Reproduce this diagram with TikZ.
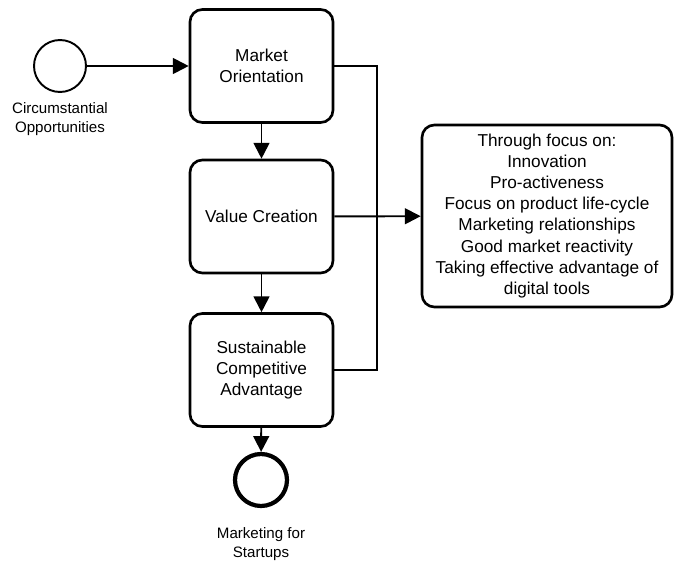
\documentclass[tikz,border=0pt]{standalone}
\usepackage{fontspec}
\setmainfont{Liberation Sans}
\usetikzlibrary{arrows.meta,positioning}
\tikzset{
  >={Triangle[length=9pt,width=9pt]},
  line join=round,
  every picture/.style={line width=1.1pt},
  stepbox/.style={draw, rounded corners=7pt, line width=1.5pt, minimum width=2.86cm, minimum height=2.26cm, align=center, font=\fontsize{9.8}{12}\selectfont},
  notebox/.style={stepbox, minimum width=5cm, minimum height=3.64cm},
  startevent/.style={draw, circle, minimum size=1.04cm, line width=1.1pt},
  endevent/.style={draw, circle, minimum size=1.04cm, line width=2.4pt},
  caption/.style={align=center, font=\fontsize{8.6}{10.4}\selectfont},
  arrow/.style={->}
}
\begin{document}
\begin{tikzpicture}[x=0.02cm, y=-0.02cm]
    \useasboundingbox (0,0) rectangle (674,561);

    % events
    \node[startevent] (start) at (60,66) {};
    \node[caption] (startlbl) at (60,119) {Circumstantial\\Opportunities};
    \node[endevent] (finish) at (261,480) {};
    \node[caption] (finishlbl) at (261,544) {Marketing for\\Startups};

    % process steps
    \node[stepbox] (mo) at (261.5,66) {Market\\Orientation};
    \node[stepbox] (vc) at (261.5,216.5) {Value Creation};
    \node[stepbox] (sca) at (261.5,370) {Sustainable\\Competitive\\Advantage};

    % focus box
    \node[notebox] (focus) at (547,216) {Through focus on:\\Innovation\\Pro-activeness\\Focus on product life-cycle\\Marketing relationships\\Good market reactivity\\Taking effective advantage of\\digital tools};

    % flow
    \draw[arrow] (start) -- (mo);
    \draw[arrow] (mo) -- (vc);
    \draw[arrow] (vc) -- (sca);
    \draw[arrow] (sca) -- (finish);

    % side links
    \coordinate (bend) at (377,216);
    \draw (mo.east) -| (bend) |- (sca.east);
    \draw[arrow] (vc) -- (focus);
\end{tikzpicture}
\end{document}
